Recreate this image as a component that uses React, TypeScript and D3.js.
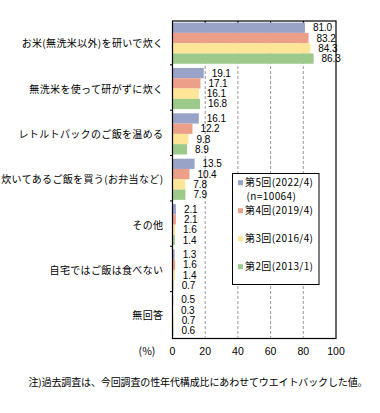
import React from "react";
import * as d3 from "d3";

const categories = [
  "お米(無洗米以外)を研いで炊く",
  "無洗米を使って研がずに炊く",
  "レトルトパックのご飯を温める",
  "炊いてあるご飯を買う(お弁当など)",
  "その他",
  "自宅ではご飯は食べない",
  "無回答",
];
const seriesNames = ["第5回(2022/4)", "第4回(2019/4)", "第3回(2016/4)", "第2回(2013/1)"];
const seriesColors = ["#99A3C7", "#EC9F89", "#FEE598", "#9DC98A"];
const s2022 = [81.0, 19.1, 16.1, 13.5, 2.1, 1.3, 0.5];
const s2019 = [83.2, 17.1, 12.2, 10.4, 2.1, 1.6, 0.3];
const s2016 = [84.3, 16.1, 9.8, 7.8, 1.6, 1.4, 0.7];
const s2013 = [86.3, 16.8, 8.9, 7.9, 1.4, 0.7, 0.6];
const seriesValues = [s2022, s2019, s2016, s2013];
const xTicks = [0, 20, 40, 60, 80, 100];
const nNote = "(n=10064)";
const footnote = "注)過去調査は、今回調査の性年代構成比にあわせてウエイトバックした値。";

const W = 380;
const H = 413;
const left = 172.5;
const right = 336;
const top = 21;
const bottom = 338.5;

const JP = "'Noto Sans CJK JP', 'Noto Sans', sans-serif";
const NUM = "'Liberation Sans', Arial, sans-serif";

export default function App() {
  const x = d3.scaleLinear().domain([0, 100]).range([left, right]);
  const y = d3.scaleBand<number>().domain(d3.range(categories.length)).range([top, bottom]).padding(0);
  const bw = y.bandwidth();
  const sub = d3.scaleBand<number>().domain(d3.range(seriesNames.length)).range([1.6, bw - 2.6]).padding(0);

  return (
    <svg width={W} height={H} style={{ position: "absolute", left: 0, top: 0, background: "#fff" }}>
      <rect x={0} y={0} width={W} height={H} fill="#fff" />
      {/* gridlines */}
      {xTicks.slice(1, -1).map((t) => (
        <g key={"g" + t}>
          <line x1={x(t)} x2={x(t)} y1={top} y2={bottom} stroke="#9a9a9a" strokeWidth={1} strokeDasharray="3,2" />
          <line x1={x(t)} x2={x(t)} y1={top} y2={top + 3} stroke="#000" strokeWidth={1} />
        </g>
      ))}
      {/* bars */}
      {seriesValues.map((vals, si) =>
        vals.map((v, ci) => {
          const y0 = (y(ci) as number) + (sub(si) as number);
          return (
            <rect key={`b${si}-${ci}`} x={x(0)} y={y0} width={x(v) - x(0)} height={sub.bandwidth()} fill={seriesColors[si]} />
          );
        })
      )}
      {/* value labels */}
      {seriesValues.map((vals, si) =>
        vals.map((v, ci) => {
          const yc = (y(ci) as number) + (sub(si) as number) + sub.bandwidth() / 2;
          return (
            <text key={`l${si}-${ci}`} x={x(v) + 8} y={yc + 3.5} fontSize={10} fontFamily={NUM} letterSpacing={-0.1} fill="#000">
              {v.toFixed(1)}
            </text>
          );
        })
      )}
      {/* plot frame */}
      <rect x={left} y={top} width={right - left} height={bottom - top} fill="none" stroke="#000" strokeWidth={1.2} />
      {/* category ticks */}
      {d3.range(1, categories.length).map((i) => (
        <line key={"ct" + i} x1={left - 2.5} x2={left} y1={(y(i) as number) - 1.5} y2={(y(i) as number) - 1.5} stroke="#000" strokeWidth={1} />
      ))}
      {/* category labels */}
      {categories.map((c, i) => (
        <text key={"c" + i} x={163.4} y={(y(i) as number) + bw / 2 + 3.5} textAnchor="end" fontSize={10} fontFamily={JP} letterSpacing={0.35} fill="#000">
          {c}
        </text>
      ))}
      {/* x axis labels */}
      {xTicks.map((t) => (
        <text key={"x" + t} x={x(t)} y={354.5} textAnchor="middle" fontSize={10.5} fontFamily={NUM} fill="#000">
          {t}
        </text>
      ))}
      <text x={147} y={354.5} textAnchor="middle" fontSize={10.5} fontFamily={JP} fill="#000">
        (%)
      </text>
      {/* legend */}
      <rect x={232.5} y={173.5} width={86.5} height={111} fill="#fff" stroke="#000" strokeWidth={1} />
      {seriesNames.map((s, i) => {
        const yc = 182.7 + 28 * i;
        return (
          <g key={"lg" + i}>
            <rect x={238} y={yc - 2.5} width={5} height={5} fill={seriesColors[i]} />
            <text x={245} y={yc + 3.5} fontSize={10} fontFamily={JP} letterSpacing={0.4} fill="#000">
              {s}
            </text>
          </g>
        );
      })}
      <text x={246.5} y={196.7 + 3.5} fontSize={10} fontFamily={JP} letterSpacing={0.4} fill="#000">
        {nNote}
      </text>
      {/* footnote */}
      <text x={28.5} y={386} fontSize={10} fontFamily={JP} textLength={339} lengthAdjust="spacing" fill="#000">
        {footnote}
      </text>
    </svg>
  );
}
